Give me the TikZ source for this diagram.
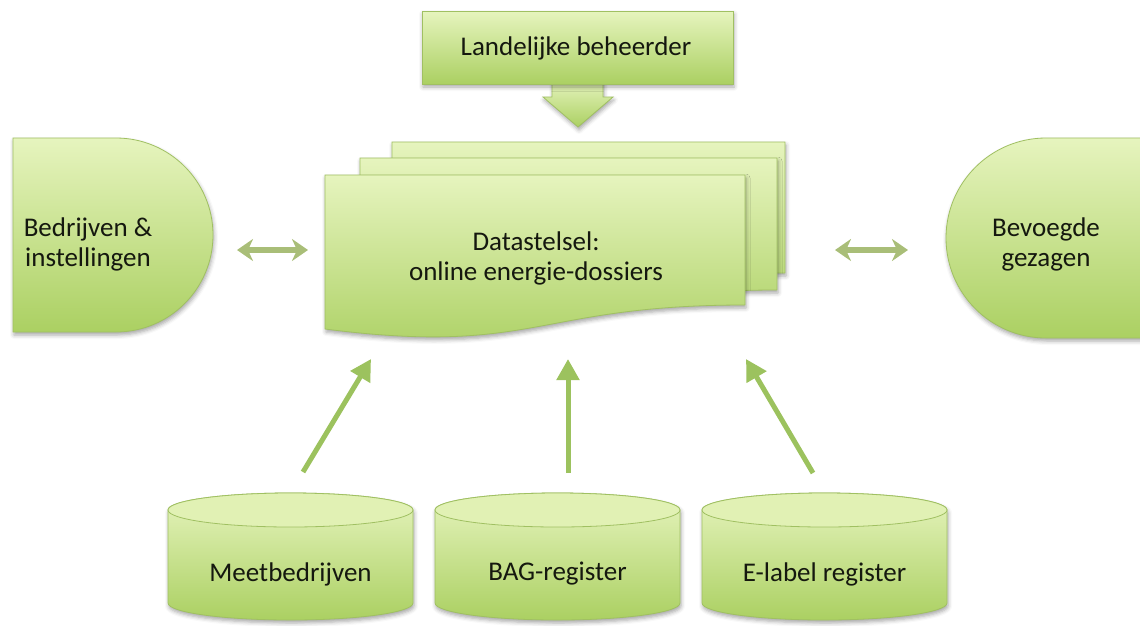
\documentclass[tikz,border=0pt]{standalone}
\usepackage{fontspec}
\setmainfont{Carlito}
\usetikzlibrary{arrows.meta,shadows.blur}

\definecolor{gtop}{HTML}{E6F4BE}
\definecolor{gbot}{HTML}{ABD062}
\definecolor{gend}{HTML}{E1F1B4}
\definecolor{gline}{HTML}{A0C062}
\definecolor{garrow}{HTML}{9CC25E}
\definecolor{gdbl}{HTML}{A9BE78}
\definecolor{txt}{HTML}{15180F}

\tikzset{
  shp/.style={draw=gline, line width=0.8pt, top color=gtop, bottom color=gbot,
    blur shadow={shadow xshift=1pt, shadow yshift=-3pt, shadow blur radius=4pt, shadow opacity=35}},
  cylend/.style={draw=gline, line width=0.8pt, fill=gend},
  lbl/.style={text=txt, font=\fontsize{27}{30}\selectfont, align=center, inner sep=0pt},
  uparrow/.style={draw=garrow, line width=5pt, -{Triangle[length=21pt,width=22pt]}},
  dblarrow/.style={draw=gdbl, line width=6pt,
    {Stealth[length=16pt,width=22pt,inset=5pt]}-{Stealth[length=16pt,width=22pt,inset=5pt]}},
}

\begin{document}
\begin{tikzpicture}[x=1pt,y=-1pt]
\useasboundingbox (0,0) rectangle (1140,625);

% down block arrow
\path[shp] (552,80) -- (603,80) -- (603,97) -- (613,97) -- (578,127) -- (543,97) -- (552,97) -- cycle;
% top box
\path[shp] (422,11) rectangle (733,84);
\node[lbl] (land) at (576,48) {Landelijke beheerder};

% document stack
\path[shp] (392,142) -- (785,142) -- (785,273) .. controls (588,273) and (588,324) .. (392,295) -- cycle;
\path[shp] (360,158) -- (777,158) -- (777,290) .. controls (568,290) and (568,341) .. (360,312) -- cycle;
\path[shp] (325,175) -- (745,175) -- (745,305) .. controls (535,305) and (535,356) .. (325,329) -- cycle;
\node[lbl] (data) at (536,258) {Datastelsel:\\online energie-dossiers};

% left delay shape
\path[shp] (13,138) -- (116,138) arc[start angle=-90, end angle=90, x radius=97, y radius=97] -- (13,332) -- cycle;
\node[lbl] (bedr) at (88,244) {Bedrijven \&\\instellingen};

% right rounded shape
\path[shp] (1160,138) -- (1046,138) arc[start angle=-90, end angle=-270, x radius=100, y radius=100] -- (1160,338) -- cycle;
\node[lbl] (bevo) at (1046,244) {Bevoegde\\gezagen};

% cylinders
\foreach \cx/\nm/\tx in {290.5/meet/Meetbedrijven, 557.5/bag/BAG-register, 824.5/elab/E-label register}{
  \path[shp] (\cx-122.5,510) -- (\cx-122.5,603) arc[start angle=180, end angle=0, x radius=122.5, y radius=17]
     -- (\cx+122.5,510) arc[start angle=0, end angle=-180, x radius=122.5, y radius=17] -- cycle;
  \path[cylend] (\cx,510) ellipse[x radius=122.5, y radius=17];
  \node[lbl] (\nm) at (\cx,574) {\tx};
}

% connectors
\coordinate (lA) at (237,250);
\coordinate (lB) at (308,250);
\coordinate (rA) at (835,250);
\coordinate (rB) at (908,250);
\draw[dblarrow] (lA) -- (lB);
\draw[dblarrow] (rA) -- (rB);

\coordinate (mT) at (303,472);
\coordinate (mH) at (371,359);
\coordinate (bT) at (568,473);
\coordinate (bH) at (568,359);
\coordinate (eT) at (813,473);
\coordinate (eH) at (746,359);
\draw[uparrow] (mT) -- (mH);
\draw[uparrow] (bT) -- (bH);
\draw[uparrow] (eT) -- (eH);
\end{tikzpicture}
\end{document}
